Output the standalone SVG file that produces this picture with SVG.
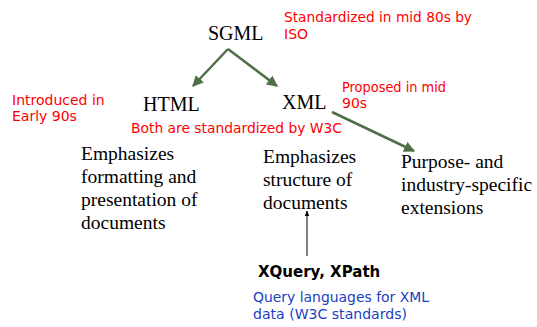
<svg xmlns="http://www.w3.org/2000/svg" width="537" height="327" viewBox="0 0 537 327">
<style>
.t{font-family:"Liberation Serif","Times New Roman",serif;fill:#000}
.big{font-size:20px}
.body{font-size:19.5px}
.red{font-family:"DejaVu Sans","Comic Sans MS",sans-serif;font-size:14px;fill:#ff0000}
.blue{font-family:"DejaVu Sans","Comic Sans MS",sans-serif;font-size:14px;fill:#1a3fc0}
.bold{font-family:"DejaVu Sans","Comic Sans MS",sans-serif;font-size:15px;font-weight:bold;fill:#000}
.g{stroke:#4f7046;stroke-width:2.5;fill:none}
.k{stroke:#000;stroke-width:1;fill:none}
</style>
<defs>
<marker id="ag" viewBox="0 0 10 10" refX="9" refY="5" markerWidth="4.4" markerHeight="4.4" markerUnits="strokeWidth" orient="auto">
<path d="M0,0 L10,5 L0,10 z" fill="#4f7046"/>
</marker>
<marker id="ak" viewBox="0 0 10 10" refX="9" refY="5" markerWidth="6" markerHeight="6" markerUnits="strokeWidth" orient="auto">
<path d="M0,1 L10,5 L0,9 z" fill="#000"/>
</marker>
</defs>
<g id="connectors">
<line class="g" x1="228" y1="49" x2="193" y2="86" marker-end="url(#ag)"/>
<line class="g" x1="228" y1="49" x2="277" y2="86" marker-end="url(#ag)"/>
<line class="g" x1="332" y1="112" x2="414" y2="151" marker-end="url(#ag)"/>
<line class="k" x1="307" y1="256" x2="307" y2="211" marker-end="url(#ak)"/>
</g>
<g id="sgml"><text class="t big" x="208" y="40">SGML</text></g>
<g id="sgml-note"><text class="red" x="284" y="22" textLength="188" lengthAdjust="spacingAndGlyphs">Standardized in mid 80s by</text><text class="red" x="284" y="39">ISO</text></g>
<g id="html"><text class="t big" x="143" y="111">HTML</text></g>
<g id="html-note"><text class="red" x="12" y="105">Introduced in</text><text class="red" x="12" y="121">Early 90s</text></g>
<g id="xml"><text class="t big" x="282" y="109">XML</text></g>
<g id="xml-note"><text class="red" x="342" y="92" textLength="104" lengthAdjust="spacingAndGlyphs">Proposed in mid</text><text class="red" x="342" y="108">90s</text></g>
<g id="both-note"><text class="red" x="131" y="133" textLength="211" lengthAdjust="spacingAndGlyphs">Both are standardized by W3C</text></g>
<g id="html-desc">
<text class="t body" x="81" y="160">Emphasizes</text>
<text class="t body" x="81" y="183">formatting and</text>
<text class="t body" x="81" y="206">presentation of</text>
<text class="t body" x="81" y="229">documents</text>
</g>
<g id="xml-desc">
<text class="t body" x="263" y="163">Emphasizes</text>
<text class="t body" x="263" y="186">structure of</text>
<text class="t body" x="263" y="209">documents</text>
</g>
<g id="ext">
<text class="t body" x="401" y="168">Purpose- and</text>
<text class="t body" x="401" y="191">industry-specific</text>
<text class="t body" x="401" y="214">extensions</text>
</g>
<g id="xquery"><text class="bold" x="258" y="277">XQuery, XPath</text></g>
<g id="query-note"><text class="blue" x="253" y="302" textLength="176" lengthAdjust="spacingAndGlyphs">Query languages for XML</text><text class="blue" x="253" y="319" textLength="154" lengthAdjust="spacingAndGlyphs">data (W3C standards)</text></g>
</svg>
